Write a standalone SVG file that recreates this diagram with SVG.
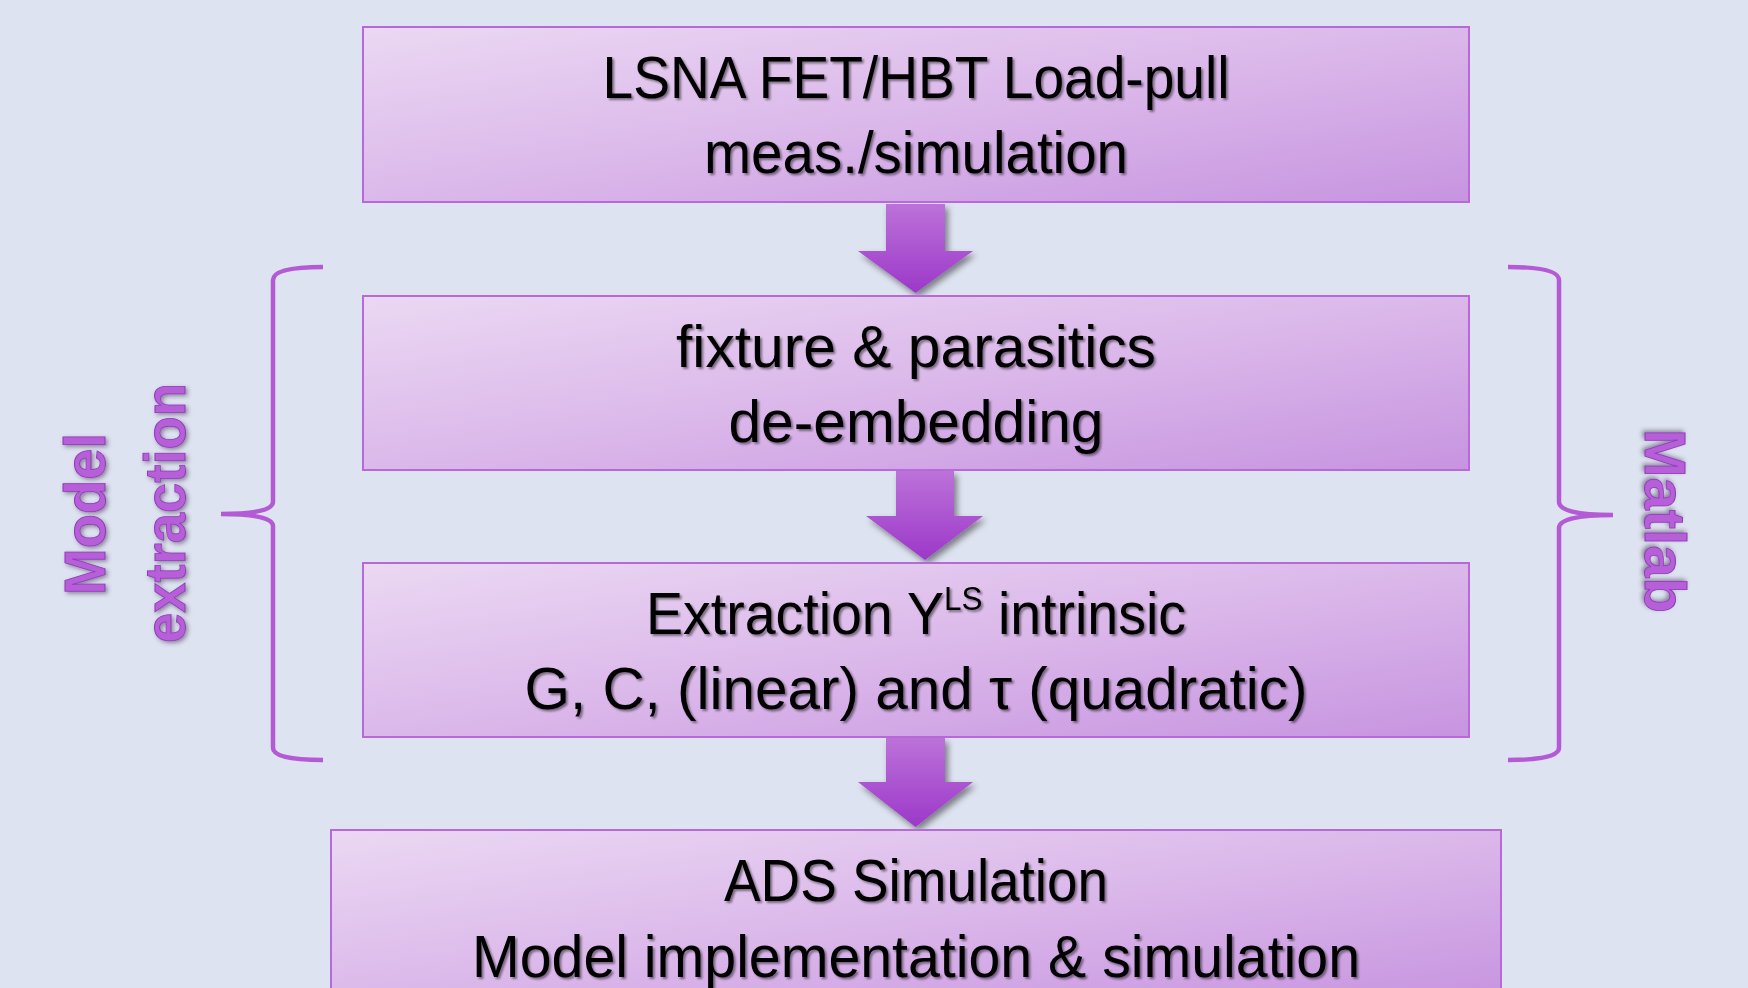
<svg xmlns="http://www.w3.org/2000/svg" width="1748" height="988" viewBox="0 0 1748 988">
  <defs>
    <linearGradient id="boxGrad" x1="0" y1="0" x2="1" y2="1">
      <stop offset="0" stop-color="#ebd8f3"/>
      <stop offset="0.5" stop-color="#dbb8ea"/>
      <stop offset="1" stop-color="#c794e0"/>
    </linearGradient>
    <linearGradient id="arrowGrad" x1="0" y1="0" x2="0" y2="1">
      <stop offset="0" stop-color="#bc72d9"/>
      <stop offset="1" stop-color="#9c38c9"/>
    </linearGradient>
    <filter id="arrowShadow" x="-30%" y="-30%" width="160%" height="160%">
      <feDropShadow dx="3" dy="4" stdDeviation="3" flood-color="#000" flood-opacity="0.45"/>
    </filter>
    <filter id="textShadow" x="-10%" y="-20%" width="120%" height="140%">
      <feDropShadow dx="2" dy="2" stdDeviation="1.2" flood-color="#000" flood-opacity="0.45"/>
    </filter>
    <filter id="sideShadow" x="-20%" y="-20%" width="140%" height="140%">
      <feDropShadow dx="-2" dy="2" stdDeviation="2" flood-color="#3a2a4a" flood-opacity="0.5"/>
    </filter>
    <style>
      .box { fill: url(#boxGrad); stroke: #b868d8; stroke-width: 2; }
      .lbl { font-family: "Liberation Sans", Arial, sans-serif; font-size: 60px; fill: #000; text-anchor: middle; filter: url(#textShadow); }
      .side { font-family: "Liberation Sans", Arial, sans-serif; font-size: 57px; font-weight: bold; fill: #b65ed9; stroke: #8e3cb8; stroke-width: 0.8; text-anchor: middle; filter: url(#sideShadow); }
      .arrow { fill: url(#arrowGrad); filter: url(#arrowShadow); }
      .brace { fill: none; stroke: #b45ad5; stroke-width: 4.5; stroke-linecap: butt; }
    </style>
  </defs>

  <rect x="0" y="0" width="1748" height="988" fill="#dde3f0"/>

  <g id="connectors">
    <path class="arrow" d="M886 204 H945 V251 H973 L915.5 293 L858 251 H886 Z"/>
    <path class="arrow" d="M896 471 H954 V516 H983 L925 560 L866 516 H896 Z"/>
    <path class="arrow" d="M886 738 H945 V782 H973 L915.5 827 L858 782 H886 Z"/>
  </g>

  <g id="node-lsna">
    <rect class="box" x="363" y="27" width="1106" height="175"/>
    <text class="lbl" x="916" y="98" textLength="627" lengthAdjust="spacingAndGlyphs">LSNA FET/HBT Load-pull</text>
    <text class="lbl" x="916" y="173" textLength="424" lengthAdjust="spacingAndGlyphs">meas./simulation</text>
  </g>

  <g id="node-deembed">
    <rect class="box" x="363" y="296" width="1106" height="174"/>
    <text class="lbl" x="916" y="367" textLength="480" lengthAdjust="spacingAndGlyphs">fixture &amp; parasitics</text>
    <text class="lbl" x="916" y="442" textLength="375" lengthAdjust="spacingAndGlyphs">de-embedding</text>
  </g>

  <g id="node-extraction">
    <rect class="box" x="363" y="563" width="1106" height="174"/>
    <text class="lbl" x="916" y="634" textLength="540" lengthAdjust="spacingAndGlyphs">Extraction Y<tspan font-size="34" dy="-24">LS</tspan><tspan dy="24"> intrinsic</tspan></text>
    <text class="lbl" x="916" y="709" textLength="783" lengthAdjust="spacingAndGlyphs">G, C, (linear) and τ (quadratic)</text>
  </g>

  <g id="node-ads">
    <rect class="box" x="331" y="830" width="1170" height="170"/>
    <text class="lbl" x="916" y="901" textLength="384" lengthAdjust="spacingAndGlyphs">ADS Simulation</text>
    <text class="lbl" x="916" y="977" textLength="888" lengthAdjust="spacingAndGlyphs">Model implementation &amp; simulation</text>
  </g>

  <g id="brace-left">
    <path class="brace" d="M323 267 Q273 267 273 280 V502 Q273 514 221 514 Q273 514 273 526 V748 Q273 760 323 760"/>
  </g>
  <g id="label-model-extraction">
    <text class="side" transform="translate(105 514) rotate(-90)" textLength="162" lengthAdjust="spacingAndGlyphs">Model</text>
    <text class="side" transform="translate(185 513) rotate(-90)" textLength="260" lengthAdjust="spacingAndGlyphs">extraction</text>
  </g>

  <g id="brace-right">
    <path class="brace" d="M1508 267 Q1559 267 1559 280 V502 Q1559 515 1613 515 Q1559 515 1559 528 V748 Q1559 760 1508 760"/>
  </g>
  <g id="label-matlab">
    <text class="side" transform="translate(1645 521) rotate(90)" textLength="184" lengthAdjust="spacingAndGlyphs">Matlab</text>
  </g>
</svg>
